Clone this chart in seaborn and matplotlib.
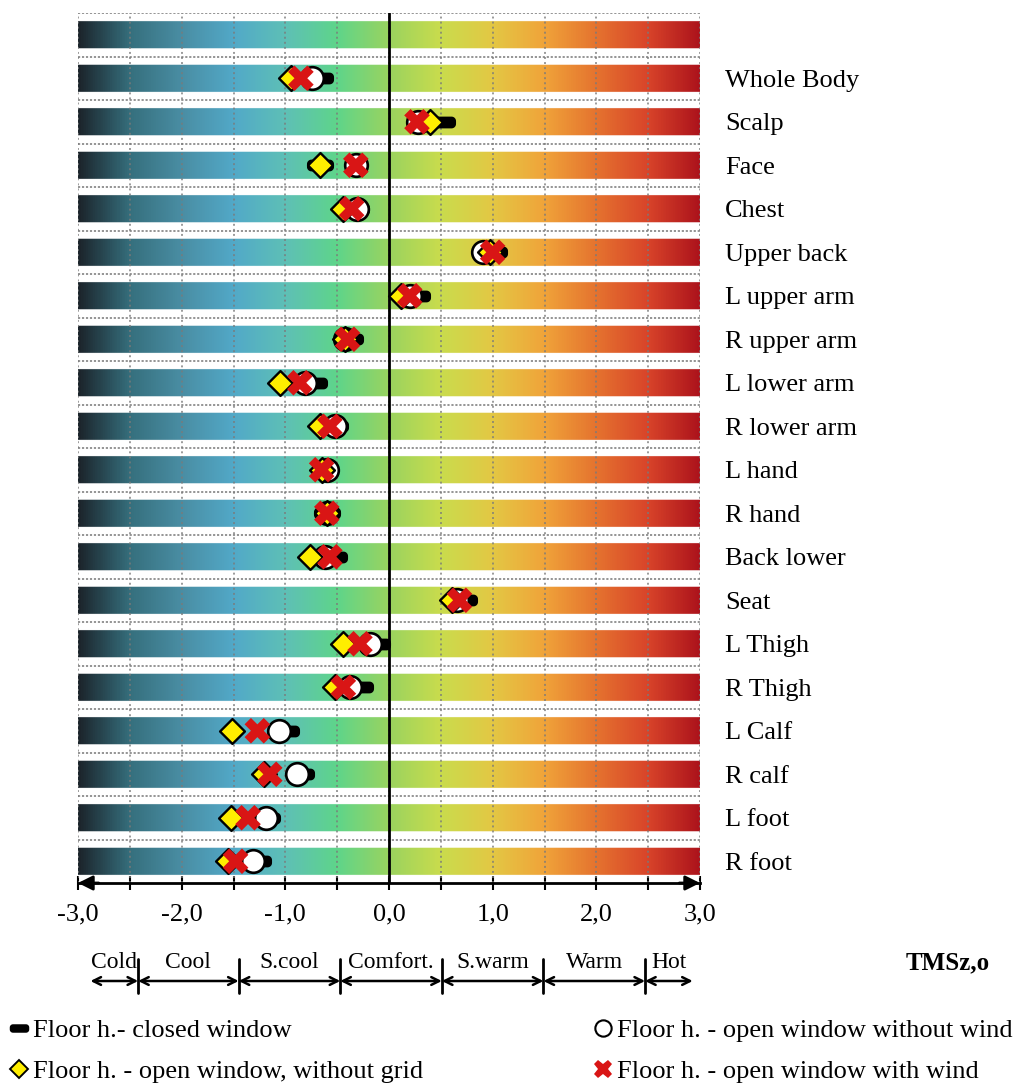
import numpy as np
import pandas as pd
import matplotlib
matplotlib.use("Agg")
import matplotlib.pyplot as plt
import matplotlib.transforms as mtransforms
from matplotlib.colors import LinearSegmentedColormap
from matplotlib.lines import Line2D
from matplotlib.path import Path
import seaborn as sns

# ---- data -------------------------------------------------------------
parts = ["Whole Body", "Scalp", "Face", "Chest", "Upper back", "L upper arm",
         "R upper arm", "L lower arm", "R lower arm", "L hand", "R hand",
         "Back lower", "Seat", "L Thigh", "R Thigh", "L Calf", "R calf",
         "L foot", "R foot"]

closed_window = [-0.67, 0.51, -0.67, -0.32, 1.01, 0.27, -0.38, -0.72, -0.52,
                 -0.62, -0.60, -0.53, 0.72, -0.12, -0.28, -0.99, -0.85,
                 -1.18, -1.26]
open_no_wind = [-0.74, 0.28, -0.32, -0.31, 0.91, 0.20, -0.42, -0.81, -0.52,
                -0.60, -0.60, -0.62, 0.66, -0.18, -0.38, -1.06, -0.89,
                -1.19, -1.31]
open_no_grid = [-0.95, 0.40, -0.67, -0.44, 0.97, 0.12, -0.42, -1.05, -0.67,
                -0.65, -0.60, -0.76, 0.61, -0.44, -0.52, -1.51, -1.21,
                -1.52, -1.55]
open_with_wind = [-0.85, 0.27, -0.32, -0.36, 1.00, 0.20, -0.40, -0.86, -0.57,
                  -0.65, -0.60, -0.57, 0.68, -0.28, -0.44, -1.27, -1.15,
                  -1.36, -1.48]

series_names = ["Floor h.- closed window",
                "Floor h. - open window, without grid",
                "Floor h. - open window without wind",
                "Floor h. - open window with wind"]

xtick_values = np.arange(-3.0, 3.01, 0.5)

scale_labels = ["Cold", "Cool", "S.cool", "Comfort.", "S.warm", "Warm", "Hot"]
scale_edges = [-2.88, -2.42, -1.45, -0.47, 0.51, 1.49, 2.47, 2.93]

axis_title = "TMSz,o"

# colour ramp of the thermal sensation scale, from -3 to +3
ramp_colors = ["#1c252c", "#36707e", "#4a8ea4", "#52a9c8", "#5ec0b6",
               "#5fd58a", "#9ad35f", "#c9dc4d", "#e3c844", "#f0a43a",
               "#e5742f", "#d9452a", "#ad141c"]

# ---- long-form table ---------------------------------------------------
rows = np.arange(1, len(parts) + 1)
df = pd.concat([
    pd.DataFrame({"part": parts, "row": rows, "series": name, "value": vals})
    for name, vals in zip(series_names,
                          [closed_window, open_no_grid, open_no_wind, open_with_wind])
], ignore_index=True)

# ---- style --------------------------------------------------------------
sns.set_theme(style="white")
plt.rcParams["font.family"] = ["Liberation Serif", "DejaVu Serif"]
for key in ["text.color", "axes.labelcolor", "xtick.color", "ytick.color"]:
    plt.rcParams[key] = "black"

fig = plt.figure(figsize=(10.15, 10.83), dpi=100)
ax = fig.add_axes([78 / 1015, 1 - 883 / 1083, 622 / 1015, 870 / 1083])

n_rows = len(parts) + 1
ymin, ymax = -0.5, n_rows - 0.5

# gradient bands: one band per row, white gaps between them
cmap = LinearSegmentedColormap.from_list("tms", ramp_colors)
cmap.set_bad((1, 1, 1, 0))
W, per_row = 800, 60
H = n_rows * per_row
yy = np.linspace(ymin, ymax, H, endpoint=False) + (ymax - ymin) / H / 2
xx = np.linspace(0, 1, W)
grad = np.tile(xx, (H, 1))
half_h = 0.32
mask = np.abs(yy - np.round(yy)) > half_h
grad = np.ma.array(grad, mask=np.repeat(mask[:, None], W, axis=1))
ax.imshow(grad, cmap=cmap, extent=(-3, 3, ymax, ymin), aspect="auto",
          interpolation="bilinear", zorder=1, vmin=0, vmax=1)

# dotted grid
for y in np.arange(ymin, ymax - 0.4, 1.0):
    ax.axhline(y, color="#8c8c8c", lw=1.3, ls=(0, (1.2, 1.0)), zorder=2)
for x in xtick_values:
    ax.axvline(x, color="#7a7a7a", lw=1.4, ls=(0, (1.0, 1.6)), alpha=0.75, zorder=2)
ax.axvline(0, color="black", lw=2.0, zorder=2.5)

# closed-window marker: rounded bar
def rounded_bar(w=2.3, h=1.0, r=0.38, n=8):
    pts = []
    corners = [(w / 2 - r, h / 2 - r, 0), (-w / 2 + r, h / 2 - r, 90),
               (-w / 2 + r, -h / 2 + r, 180), (w / 2 - r, -h / 2 + r, 270)]
    for cx, cy, a0 in corners:
        a = np.deg2rad(np.linspace(a0, a0 + 90, n))
        pts.extend(zip(cx + r * np.cos(a), cy + r * np.sin(a)))
    pts.append(pts[0])
    return Path(np.array(pts))

bar_marker = rounded_bar()

styles = {
    series_names[0]: dict(marker=bar_marker, s=380, color="black",
                          edgecolor="black", linewidth=0, zorder=3),
    series_names[2]: dict(marker="o", s=265, color="white",
                          edgecolor="black", linewidth=1.9, zorder=4),
    series_names[1]: dict(marker="D", s=160, color="#ffee00",
                          edgecolor="black", linewidth=1.7, zorder=5),
    series_names[3]: dict(marker="X", s=340, color="#d91515",
                          edgecolor="none", linewidth=0, zorder=6),
}
for name in [series_names[0], series_names[2], series_names[1], series_names[3]]:
    sub = df[df["series"] == name]
    sns.scatterplot(data=sub, x="value", y="row", ax=ax, legend=False,
                    clip_on=False, **styles[name])

ax.set_xlim(-3, 3)
ax.set_ylim(ymax, ymin)
ax.set_xlabel("")
ax.set_ylabel("")

# axes: only the bottom spine, ticks crossing it
for side in ["top", "left", "right"]:
    ax.spines[side].set_visible(False)
ax.spines["bottom"].set_linewidth(2.0)
ax.spines["bottom"].set_color("black")
ax.spines["bottom"].set_zorder(7)
ax.set_xticks(xtick_values)
ax.set_xticklabels([f"{v:.1f}".replace(".", ",") if float(v).is_integer() else ""
                    for v in xtick_values])
ax.tick_params(axis="x", direction="inout", length=10, width=1.5, color="black",
               labelsize=19, pad=10, bottom=True)

# part names on the right
ax.yaxis.tick_right()
ax.set_yticks(rows)
ax.set_yticklabels(parts)
ax.tick_params(axis="y", length=0, pad=18, labelsize=19, right=True, left=False)

# arrow heads at both ends of the scale
for x0, x1 in [(-2.8, -3.0), (2.8, 3.0)]:
    ax.annotate("", xy=(x1, 0), xytext=(x0, 0),
                xycoords=("data", "axes fraction"),
                textcoords=("data", "axes fraction"),
                arrowprops=dict(arrowstyle="-|>", color="black", lw=2,
                                mutation_scale=22, shrinkA=0, shrinkB=0),
                annotation_clip=False, zorder=8)

# comfort scale under the axis
trans = mtransforms.blended_transform_factory(ax.transData, fig.transFigure)
y_lab = 1 - 963 / 1083
y_arr = 1 - 981 / 1083
for xe in scale_edges[1:-1]:
    ax.plot([xe, xe], [1 - 959 / 1083, 1 - 993 / 1083], color="black", lw=2,
            transform=trans, clip_on=False)
for lab, a, b in zip(scale_labels, scale_edges[:-1], scale_edges[1:]):
    ax.annotate("", xy=(b, y_arr), xytext=(a, y_arr), xycoords=trans,
                textcoords=trans,
                arrowprops=dict(arrowstyle="<->", color="black", lw=1.8,
                                mutation_scale=14, shrinkA=0, shrinkB=0),
                annotation_clip=False)
    ax.text((a + b) / 2, y_lab, lab, transform=trans, ha="center",
            va="center", fontsize=17)

fig.text(948 / 1015, y_lab, axis_title, ha="center", va="center",
         fontsize=18, fontweight="bold")

# legends
def handle(name, scale=0.72):
    st = styles[name]
    return Line2D([], [], ls="none", marker=st["marker"],
                  markersize=np.sqrt(st["s"]) * scale,
                  markerfacecolor=st["color"],
                  markeredgecolor=st["edgecolor"],
                  markeredgewidth=st["linewidth"] * 0.8)

leg_kw = dict(frameon=False, fontsize=19, handlelength=0.8, handletextpad=0.15,
              labelspacing=0.66, borderpad=0, borderaxespad=0)
leg1 = fig.legend([handle(series_names[0]), handle(series_names[1])],
                  [series_names[0], series_names[1]], loc="upper left",
                  bbox_to_anchor=(8 / 1015, 1 - 1019 / 1083), **leg_kw)
leg2 = fig.legend([handle(series_names[2]), handle(series_names[3])],
                  [series_names[2], series_names[3]], loc="upper left",
                  bbox_to_anchor=(592 / 1015, 1 - 1019 / 1083), **leg_kw)

fig.savefig("out.png", dpi=100)
